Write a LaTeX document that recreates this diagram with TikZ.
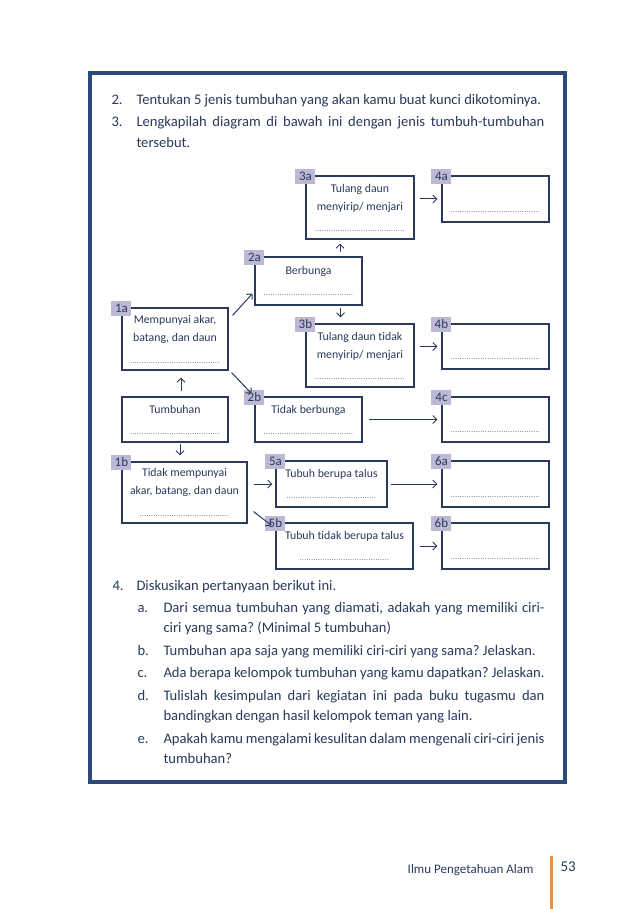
\documentclass[tikz,border=0pt]{standalone}
\usepackage{fontspec}
\setmainfont{Carlito}[Ligatures=NoCommon]
\usetikzlibrary{calc}
\usetikzlibrary{positioning}
\usetikzlibrary{arrows.meta}
\definecolor{ink}{HTML}{2A3A5C}
\definecolor{frame}{HTML}{2E4878}
\definecolor{tagfill}{HTML}{BDB9D4}
\definecolor{bar}{HTML}{E8913A}
\newcommand{\isian}{\makebox[90pt]{\fontsize{7}{7}\selectfont\leaders\hbox to 2.3pt{\hss.\hss}\hfill}}
\hyphenpenalty=10000
\frenchspacing

\begin{document}
\begin{tikzpicture}[x=1pt, y=-1pt, >={Straight Barb[length=4pt,width=8pt]}, arrows=->,
    line width=1pt, draw=ink, color=ink,
    box/.style={rectangle, draw=ink, line width=1.1pt, inner sep=0pt, align=center,
      font=\fontsize{11.8}{18}\selectfont},
    tag/.style={rectangle, fill=tagfill, minimum width=20pt, minimum height=15pt,
      inner sep=0pt, font=\fontsize{13}{13}\selectfont},
    txt/.style={anchor=base west, inner sep=0pt, font=\fontsize{14.6}{20.5}\selectfont},
    par/.style={txt, text width=#1, align=justify},
  ]
\useasboundingbox (0,0) rectangle (638,909);
\fill[white] (0,0) rectangle (638,909);
\draw[-, frame, line width=3.5pt] (90,73) rectangle (565,782);

% Questions 2 and 3
\node[txt] (n2) at (111,104.5) {2.};
\node[txt] (t2) at (136,104.5) {Tentukan 5 jenis tumbuhan yang akan kamu buat kunci dikotominya.};
\node[txt] (n3) at (111,127) {3.};
\node[par=408pt] (t3) at (136,127) {Lengkapilah diagram di bawah ini dengan jenis tumbuh-tumbuhan\linebreak tersebut.};

% Column 1
\node[box, minimum width=106pt, minimum height=62pt] (b1a) at (175,339)
  {Mempunyai akar,\\batang, dan daun\\[4pt]\isian};
\node[box, minimum width=106pt, minimum height=45pt] (tum) at (175,419.5)
  {Tumbuhan\\[3pt]\isian};
\node[box, minimum width=125pt, minimum height=61pt] (b1b) at (184.5,492.5)
  {Tidak mempunyai\\akar, batang, dan daun\\[4pt]\isian};
% Column 2
\node[box, minimum width=107pt, minimum height=48pt] (b2a) at (308.5,281)
  {Berbunga\\[3pt]\isian};
\node[box, minimum width=107pt, minimum height=45pt] (b2b) at (308.5,419.5)
  {Tidak berbunga\\[3pt]\isian};
\node[box, minimum width=111pt, minimum height=46pt] (b5a) at (331.5,484)
  {Tubuh berupa talus\\[3pt]\isian};
\node[box, minimum width=137pt, minimum height=46pt] (b5b) at (344.5,546)
  {Tubuh tidak berupa talus\\[3pt]\isian};
% Column 3
\node[box, minimum width=108pt, minimum height=63pt] (b3a) at (360,207.5)
  {Tulang daun\\menyirip/ menjari\\[3pt]\isian};
\node[box, minimum width=108pt, minimum height=63pt] (b3b) at (360,355.5)
  {Tulang daun tidak\\menyirip/ menjari\\[3pt]\isian};
% Column 4
\foreach \n/\y/\h in {4a/199/46, 4b/346.5/45, 4c/419.5/45, 6a/484/46, 6b/546/46} {
  \node[box, minimum width=107pt, minimum height=\h pt] (b\n) at (495.5,\y)
    {\mbox{}\\[9pt]\isian};
};

% tags
\foreach \n in {1a, 1b, 2a, 2b, 3a, 3b, 4a, 4b, 4c, 5a, 5b, 6a, 6b} {
  \node[tag] (g\n) at ($(b\n.north west)+(0,1)$) {\n};
};

\draw[shorten <=5pt, shorten >=7pt] ([xshift=6pt]tum.north) -- ([xshift=6pt]b1a.south);
\draw[shorten <=1pt, shorten >=6pt] ([xshift=5pt]tum.south) -- ([xshift=5pt]tum.south |- b1b.north);
\draw ($(b1a.north east)+(4,8)$) -- ($(b2a.south west)+(-2,-12)$);
\draw ($(b1a.south east)+(3,2)$) -- ($(b2b.north west)+(-3,-3)$);
\draw[shorten <=4pt, shorten >=4pt] ([xshift=-20pt]b3a.south |- b2a.north) -- ([xshift=-20pt]b3a.south);
\draw[shorten <=2pt, shorten >=6pt] ([xshift=32pt]b2a.south) -- ([xshift=32pt]b2a.south |- b3b.north);
\draw[shorten <=5pt, shorten >=4pt] (b3a.east |- b4a) -- (b4a.west);
\draw[shorten <=5pt, shorten >=4pt] (b3b.east |- b4b) -- (b4b.west);
\draw[shorten <=6pt, shorten >=4pt] (b2b.east) -- (b4c.west);
\draw[shorten <=6pt, shorten >=3pt] (b1b.east |- b5a) -- (b5a.west);
\draw ($(b1b.south east)+(6,-12)$) -- ($(b5b.north west)+(-4,3)$);
\draw[shorten <=3pt, shorten >=4pt] (b5a.east |- b6a) -- (b6a.west);
\draw[shorten <=6pt, shorten >=4pt] (b5b.east) -- (b6b.west);

% Question 4
\node[txt] (n4) at (112,590) {4.};
\node[txt] (t4) at (136,590) {Diskusikan pertanyaan berikut ini.};
\foreach \l/\y/\t in {a/612/{Dari semua tumbuhan yang diamati, adakah yang memiliki ciri-\linebreak ciri yang sama? (Minimal 5 tumbuhan)},
    b/655/{Tumbuhan apa saja yang memiliki ciri-ciri yang sama? Jelaskan.},
    c/677/{Ada berapa kelompok tumbuhan yang kamu dapatkan? Jelaskan.},
    d/700/{Tulislah kesimpulan dari kegiatan ini pada buku tugasmu dan\linebreak bandingkan dengan hasil kelompok teman yang lain.},
    e/743/{Apakah kamu mengalami kesulitan dalam mengenali ciri-ciri jenis\linebreak tumbuhan?}} {
  \node[txt] (n4\l) at (137,\y) {\l.};
  \node[par=381pt] (t4\l) at (163,\y) {\t};
};

% footer
\node[txt, anchor=base east, font=\fontsize{13}{13}\selectfont] (foot) at (534,873) {Ilmu Pengetahuan Alam};
\draw[-, bar, line width=3pt] (551,856) -- (551,909);
\node[txt, font=\fontsize{15}{15}\selectfont] (page) at (560,871) {53};
\end{tikzpicture}
\end{document}
